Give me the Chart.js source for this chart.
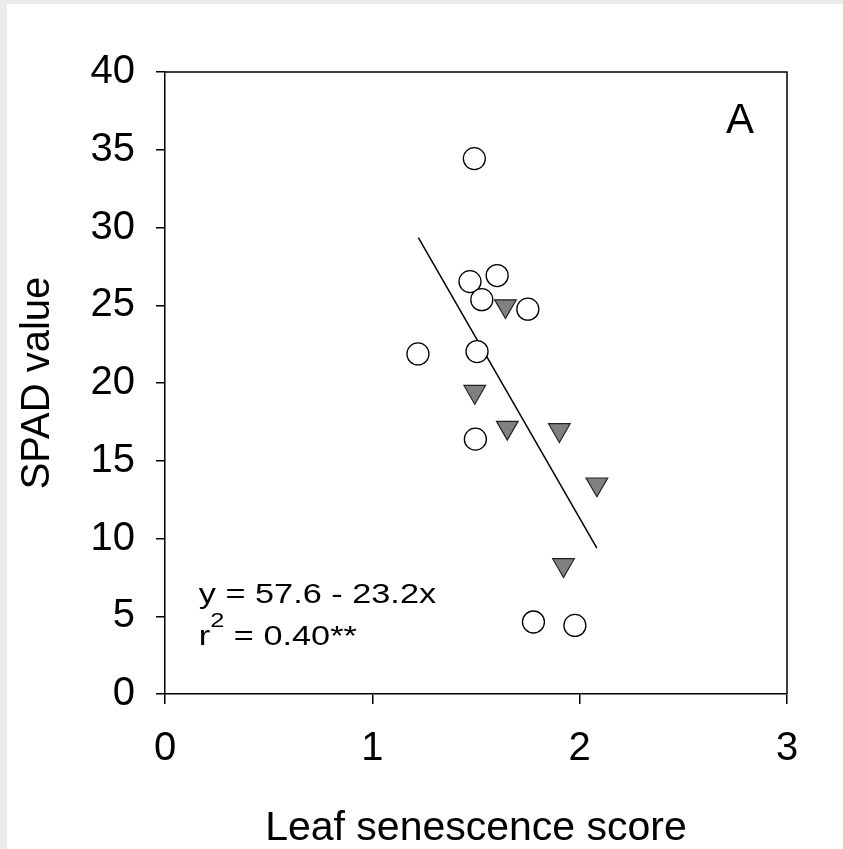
<!DOCTYPE html>
<html>
<head>
<meta charset="utf-8">
<script src="https://cdn.jsdelivr.net/npm/chart.js@4/dist/chart.umd.min.js"></script>
<style>
  html, body { margin: 0; padding: 0; background: #ebebeb; width: 843px; height: 849px; overflow: hidden; }
  #paper { position: absolute; left: 7px; top: 4px; right: 0; bottom: 0; background: #ffffff; }
  #c { position: absolute; left: 0; top: 0; }
</style>
</head>
<body>
<div id="paper"></div>
<canvas id="c" width="843" height="849"></canvas>
<script>
// ---- data ----
const xTickValues = [0, 1, 2, 3];
const yTickValues = [0, 5, 10, 15, 20, 25, 30, 35, 40];
const openX = [1.492, 1.471, 1.602, 1.528, 1.750, 1.220, 1.505, 1.497, 1.777, 1.977];
const openY = [34.43, 26.52, 26.91, 25.36, 24.75, 21.87, 22.02, 16.39, 4.63, 4.41];
const triX = [1.642, 1.494, 1.651, 1.902, 2.083, 1.922];
const triY = [24.95, 19.44, 17.13, 16.98, 13.49, 8.30];
const fitX = [1.222, 2.083];
const fitY = [29.35, 9.38];
const xTitle = 'Leaf senescence score';
const yTitle = 'SPAD value';
const panelLabel = 'A';
const eqLine1 = 'y = 57.6 - 23.2x';
const eqR = 'r';
const eqSup = '2';
const eqLine2 = ' = 0.40**';

const pts = (xs, ys) => xs.map((x, i) => ({ x: x, y: ys[i] }));
const FONT = '"Liberation Sans", Arial, Helvetica, sans-serif';

const decor = {
  id: 'decor',
  afterDraw(chart) {
    const { ctx, chartArea: a, scales } = chart;
    const sx = scales.x, sy = scales.y;
    ctx.save();
    // top & right frame
    ctx.strokeStyle = '#000';
    ctx.lineWidth = 1.5;
    ctx.beginPath();
    ctx.moveTo(a.left, a.top);
    ctx.lineTo(a.right, a.top);
    ctx.lineTo(a.right, a.bottom);
    ctx.stroke();

    ctx.fillStyle = '#000';
    ctx.textBaseline = 'alphabetic';
    // panel label
    ctx.font = '42px ' + FONT;
    ctx.textAlign = 'center';
    ctx.fillText(panelLabel, sx.getPixelForValue(2.773), sy.getPixelForValue(36.1));

    // equation (horizontally stretched as in the reference)
    ctx.textAlign = 'left';
    const stretch = 1.27;
    const x0 = sx.getPixelForValue(0.163);
    ctx.save();
    ctx.translate(x0, sy.getPixelForValue(5.87));
    ctx.scale(stretch, 1);
    ctx.font = '27px ' + FONT;
    ctx.fillText(eqLine1, 0, 0);
    ctx.restore();

    const yb2 = sy.getPixelForValue(3.12);
    const ysup = sy.getPixelForValue(4.28);
    ctx.save();
    ctx.translate(x0, 0);
    ctx.scale(stretch, 1);
    ctx.font = '27px ' + FONT;
    ctx.fillText(eqR, 0, yb2);
    let w = ctx.measureText(eqR).width;
    ctx.font = '20px ' + FONT;
    ctx.fillText(eqSup, w, ysup);
    w += ctx.measureText(eqSup).width;
    ctx.font = '27px ' + FONT;
    ctx.fillText(eqLine2, w, yb2);
    ctx.restore();

    ctx.restore();
  }
};

new Chart(document.getElementById('c'), {
  type: 'scatter',
  data: {
    datasets: [
      {
        label: 'open',
        data: pts(openX, openY),
        pointStyle: 'circle',
        pointRadius: 11,
        pointHoverRadius: 11,
        backgroundColor: '#ffffff',
        borderColor: '#000000',
        borderWidth: 1.3,
        order: 1
      },
      {
        label: 'tri',
        data: pts(triX, triY),
        pointStyle: 'triangle',
        rotation: 180,
        pointRadius: 12.5,
        pointHoverRadius: 12.5,
        backgroundColor: '#808080',
        borderColor: '#222222',
        borderWidth: 1.2,
        order: 1
      },
      {
        label: 'fit',
        type: 'line',
        data: pts(fitX, fitY),
        borderColor: '#000000',
        borderWidth: 1.5,
        pointRadius: 0,
        fill: false,
        order: 2
      }
    ]
  },
  options: {
    responsive: false,
    animation: false,
    devicePixelRatio: 1,
    layout: { padding: { left: 0, top: 72, right: 56, bottom: 0 } },
    plugins: { legend: { display: false }, tooltip: { enabled: false } },
    scales: {
      x: {
        type: 'linear',
        min: 0, max: 3,
        afterFit(s) { s.height = 155; },
        afterBuildTicks(s) { s.ticks = xTickValues.map(v => ({ value: v })); },
        border: { display: true, color: '#000', width: 1.5 },
        grid: { drawOnChartArea: false, drawTicks: true, tickLength: 10, color: '#000', lineWidth: 1.5 },
        ticks: { color: '#000', font: { family: FONT, size: 40 }, padding: 21, autoSkip: false, maxRotation: 0 },
        title: { display: true, text: xTitle, color: '#000', font: { family: FONT, size: 41, lineHeight: 1 }, padding: { top: 0, bottom: 0 } }
      },
      y: {
        type: 'linear',
        min: 0, max: 40,
        afterFit(s) { s.width = 165; },
        afterBuildTicks(s) { s.ticks = yTickValues.map(v => ({ value: v })); },
        border: { display: true, color: '#000', width: 1.5 },
        grid: { drawOnChartArea: false, drawTicks: true, tickLength: 9, color: '#000', lineWidth: 1.5 },
        ticks: { color: '#000', font: { family: FONT, size: 40 }, padding: 21, autoSkip: false },
        title: { display: true, text: yTitle, color: '#000', font: { family: FONT, size: 40, lineHeight: 1 }, padding: { top: 18, bottom: 0 } }
      }
    }
  },
  plugins: [decor]
});
</script>
</body>
</html>
